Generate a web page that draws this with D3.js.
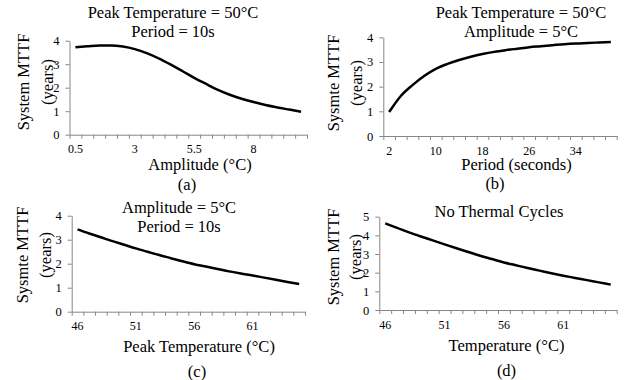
<!DOCTYPE html>
<html>
<head>
<meta charset="utf-8">
<script src="https://cdn.jsdelivr.net/npm/d3@7"></script>
<style>
  body { margin: 0; background: #fff; }
</style>
</head>
<body>
<div id="chart"></div>
<script>
// values
let amplitudes = [0.5, 1, 1.5, 2, 2.5, 3, 3.5, 4, 4.5, 5, 5.5, 6, 6.5, 7, 7.5, 8, 8.5, 9, 9.5, 10]
let mttfAmplitude = [3.72, 3.76, 3.80, 3.80, 3.75, 3.64, 3.47, 3.25, 2.99, 2.71, 2.42, 2.16, 1.91, 1.70, 1.53, 1.39, 1.26, 1.16, 1.07, 0.98]

let periods = [2, 4, 6, 8, 10, 12, 14, 16, 18, 20, 22, 24, 26, 28, 30, 32, 34, 36, 38, 40]
let mttfPeriod = [0.97, 1.62, 2.06, 2.43, 2.72, 2.92, 3.08, 3.21, 3.32, 3.41, 3.48, 3.54, 3.60, 3.64, 3.68, 3.72, 3.75, 3.77, 3.79, 3.81]

let peakTemps = [46, 47, 48, 49, 50, 51, 52, 53, 54, 55, 56, 57, 58, 59, 60, 61, 62, 63, 64, 65]
let mttfPeak = [3.43, 3.26, 3.10, 2.94, 2.79, 2.64, 2.50, 2.36, 2.23, 2.10, 1.98, 1.88, 1.78, 1.68, 1.59, 1.51, 1.42, 1.33, 1.24, 1.15]

let temps = [46, 47, 48, 49, 50, 51, 52, 53, 54, 55, 56, 57, 58, 59, 60, 61, 62, 63, 64, 65]
let mttfNoCycle = [4.64, 4.40, 4.16, 3.94, 3.73, 3.52, 3.31, 3.11, 2.91, 2.73, 2.55, 2.40, 2.25, 2.11, 1.97, 1.84, 1.72, 1.60, 1.48, 1.36]

let serif = '"Liberation Serif", "Times New Roman", serif'
let svgWidth = 630
let svgHeight = 380
let svg = d3.select('#chart').append('svg')
    .attr('width', svgWidth)
    .attr('height', svgHeight)

let panels = [
    {
        cats: amplitudes, vals: mttfAmplitude, ymax: 4, every: 5,
        left: 69.5, right: 307, top: 40.7, bottom: 134.7,
        title: ['Peak Temperature = 50°C', 'Period = 10s'], titleX: 173, titleY: 12,
        ylab: ['System MTTF', '(years)'], ylabX: [23, 47], ylabY: 82,
        xlab: 'Amplitude (°C)', xlabX: 200, xlabY: 164,
        tag: '(a)', tagX: 187, tagY: 184
    },
    {
        cats: periods, vals: mttfPeriod, ymax: 4, every: 4,
        left: 383.3, right: 616.7, top: 37.3, bottom: 136,
        title: ['Peak Temperature = 50°C', 'Amplitude = 5°C'], titleX: 521, titleY: 12,
        ylab: ['Sysmte MTTF', '(years)'], ylabX: [333, 356.5], ylabY: 83,
        xlab: 'Period (seconds)', xlabX: 516.5, xlabY: 164,
        tag: '(b)', tagX: 495, tagY: 183
    },
    {
        cats: peakTemps, vals: mttfPeak, ymax: 4, every: 5,
        left: 71.7, right: 305, top: 215.7, bottom: 311.7,
        title: ['Amplitude = 5°C', 'Period = 10s'], titleX: 179, titleY: 207,
        ylab: ['Sysmte MTTF', '(years)'], ylabX: [22, 45], ylabY: 255,
        xlab: 'Peak Temperature (°C)', xlabX: 199, xlabY: 346,
        tag: '(c)', tagX: 197, tagY: 371
    },
    {
        cats: temps, vals: mttfNoCycle, ymax: 5, every: 5,
        left: 379.3, right: 616.7, top: 216.7, bottom: 310,
        title: ['No Thermal Cycles'], titleX: 499, titleY: 211,
        ylab: ['System MTTF', '(years)'], ylabX: [333, 355], ylabY: 257,
        xlab: 'Temperature (°C)', xlabX: 506.5, xlabY: 345,
        tag: '(d)', tagX: 506.5, tagY: 370
    }
]

panels.forEach(p => drawPanel(p))

function addText(g, x, y, t, size) {
    return g.append('text')
        .attr('x', x)
        .attr('y', y)
        .attr('dy', '0.35em')
        .attr('text-anchor', 'middle')
        .style('font-family', serif)
        .style('font-size', size + 'px')
        .style('fill', '#000')
        .text(t)
}

function drawPanel(p) {
    let g = svg.append('g')
    let n = p.cats.length

    let x = d3.scaleBand()
        .domain(p.cats)
        .range([p.left, p.right])
        .padding(0)
    let xEdge = d3.scaleLinear()
        .domain([0, n])
        .range([p.left, p.right])
    let y = d3.scaleLinear()
        .domain([0, p.ymax])
        .range([p.bottom, p.top])

    // category boundary ticks
    let xt = g.append('g')
        .attr('transform', `translate(0, ${p.bottom})`)
        .call(d3.axisBottom(xEdge).tickValues(d3.range(0, n + 1)).tickSize(4).tickSizeOuter(0).tickFormat(''))
    xt.selectAll('.domain, .tick line').attr('stroke', '#868686')

    // category labels
    let labelCats = p.cats.filter((d, i) => i % p.every == 0)
    let lab = g.append('g')
        .attr('transform', `translate(0, ${p.bottom})`)
        .call(d3.axisBottom(x).tickValues(labelCats).tickSize(0).tickPadding(10))
    lab.select('.domain').remove()
    lab.selectAll('text')
        .style('font-family', serif)
        .style('font-size', '12px')
        .style('fill', '#000')

    let ya = g.append('g')
        .attr('transform', `translate(${p.left}, 0)`)
        .call(d3.axisLeft(y).ticks(p.ymax).tickSize(4).tickSizeOuter(0).tickPadding(6))
    ya.selectAll('.domain, .tick line').attr('stroke', '#868686')
    ya.selectAll('text')
        .style('font-family', serif)
        .style('font-size', '12.5px')
        .style('fill', '#000')

    let line = d3.line()
        .x((d, i) => x(p.cats[i]) + x.bandwidth() / 2)
        .y(d => y(d))
        .curve(d3.curveMonotoneX)

    g.append('path')
        .datum(p.vals)
        .attr('fill', 'none')
        .attr('stroke', '#000')
        .attr('stroke-width', 2.5)
        .attr('d', line)

    p.title.forEach((t, i) => addText(g, p.titleX, p.titleY + i * 19, t, 16.5))

    p.ylab.forEach((t, i) => {
        addText(g, 0, 0, t, 16.5)
            .attr('transform', `translate(${p.ylabX[i]}, ${p.ylabY}) rotate(-90)`)
    })

    addText(g, p.xlabX, p.xlabY, p.xlab, 16.5)
    addText(g, p.tagX, p.tagY, p.tag, 16.5)
}
</script>
</body>
</html>
